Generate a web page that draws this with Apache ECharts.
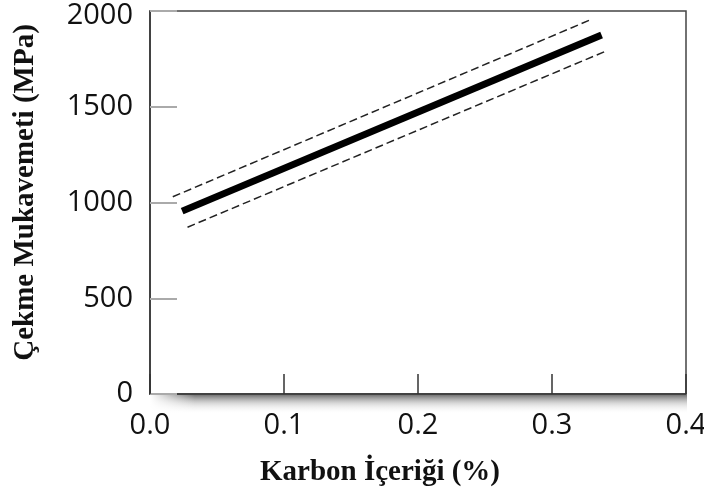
<!DOCTYPE html>
<html>
<head>
<meta charset="utf-8">
<script src="https://cdn.jsdelivr.net/npm/echarts@6/dist/echarts.min.js"></script>
<style>html,body{margin:0;padding:0;background:#fff}#c{width:704px;height:501px}</style>
</head>
<body>
<div id="c"></div>
<script>
// Data
const xTicks = [0.0, 0.1, 0.2, 0.3, 0.4];
const yTicks = [0, 500, 1000, 1500, 2000];
const meanCarbon = [0.024, 0.337];
const meanStrength = [955, 1875];
const upperCarbon = [0.017, 0.330];
const upperStrength = [1030, 1958];
const lowerCarbon = [0.028, 0.340];
const lowerStrength = [871, 1790];
const xTitle = 'Karbon İçeriği (%)';
const yTitle = 'Çekme Mukavemeti (MPa)';

const pairs = (xs, ys) => xs.map((x, i) => [x, ys[i]]);

const chart = echarts.init(document.getElementById('c'), null, {renderer: 'canvas'});
const sansFont = '"Open Sans", "DejaVu Sans", sans-serif';
const serifFont = '"Liberation Serif", "DejaVu Serif", serif';
const yMax = yTicks[yTicks.length - 1];

chart.setOption({
  animation: false,
  backgroundColor: '#fff',
  grid: {left: 150, right: 18, top: 11, bottom: 107, outerBoundsMode: 'none', containLabel: false,
    show: true, borderColor: '#444', borderWidth: 1.5, backgroundColor: 'transparent'},
  xAxis: {
    type: 'value', min: 0, max: 0.4, interval: 0.1,
    name: xTitle, nameLocation: 'middle', nameGap: 64,
    nameTextStyle: {fontFamily: serifFont, fontWeight: 'bold', fontSize: 29, color: '#111', padding: [0, 76, 0, 0]},
    axisLine: {show: true, lineStyle: {color: '#333', width: 1.5}},
    axisTick: {show: true, inside: true, length: 20, lineStyle: {color: '#333', width: 1.5}},
    axisLabel: {margin: 17, fontFamily: sansFont, fontSize: 29, color: '#111',
      formatter: v => xTicks.includes(Math.round(v * 10) / 10) ? v.toFixed(1) : ''},
    splitLine: {show: false}
  },
  yAxis: {
    type: 'value', min: 0, max: 2000, interval: 500,
    name: yTitle, nameLocation: 'middle', nameGap: 110,
    nameTextStyle: {fontFamily: serifFont, fontWeight: 'bold', fontSize: 29, color: '#111', padding: [0, 0, 0, 20]},
    axisLine: {show: true, lineStyle: {color: '#333', width: 1.5}},
    axisTick: {show: true, inside: true, length: 27, lineStyle: {color: '#aaa', width: 2}},
    axisLabel: {margin: 17, fontFamily: sansFont, fontSize: 29, color: '#111',
      formatter: v => !yTicks.includes(v) ? '' : (v === yMax ? '{m|' + v + '}' : String(v)),
      rich: {m: {fontFamily: sansFont, fontSize: 29, color: '#111', padding: [10, 0, 0, 0]}}},
    splitLine: {show: false}
  },
  graphic: [
    {type: 'rect', z: -1, shape: {x: 150, y: 395, width: 537, height: 19},
      style: {fill: {type: 'linear', x: 0, y: 0, x2: 0, y2: 1, colorStops: [
        {offset: 0, color: 'rgba(70,70,70,0.75)'}, {offset: 0.45, color: 'rgba(150,150,150,0.35)'}, {offset: 1, color: 'rgba(255,255,255,0)'}]}}},
    {type: 'rect', z: -1, shape: {x: 150, y: 395, width: 45, height: 19},
      style: {fill: {type: 'linear', x: 0, y: 0, x2: 1, y2: 0, colorStops: [
        {offset: 0, color: 'rgba(255,255,255,1)'}, {offset: 1, color: 'rgba(255,255,255,0)'}]}}}
  ],
  series: [
    {type: 'line', data: pairs(upperCarbon, upperStrength), symbol: 'none', lineStyle: {color: '#222', width: 1.5, type: [8, 4]}},
    {type: 'line', data: pairs(lowerCarbon, lowerStrength), symbol: 'none', lineStyle: {color: '#222', width: 1.5, type: [8, 4]}},
    {type: 'line', data: pairs(meanCarbon, meanStrength), symbol: 'none', lineStyle: {color: '#000', width: 7}}
  ]
});
</script>
</body>
</html>
